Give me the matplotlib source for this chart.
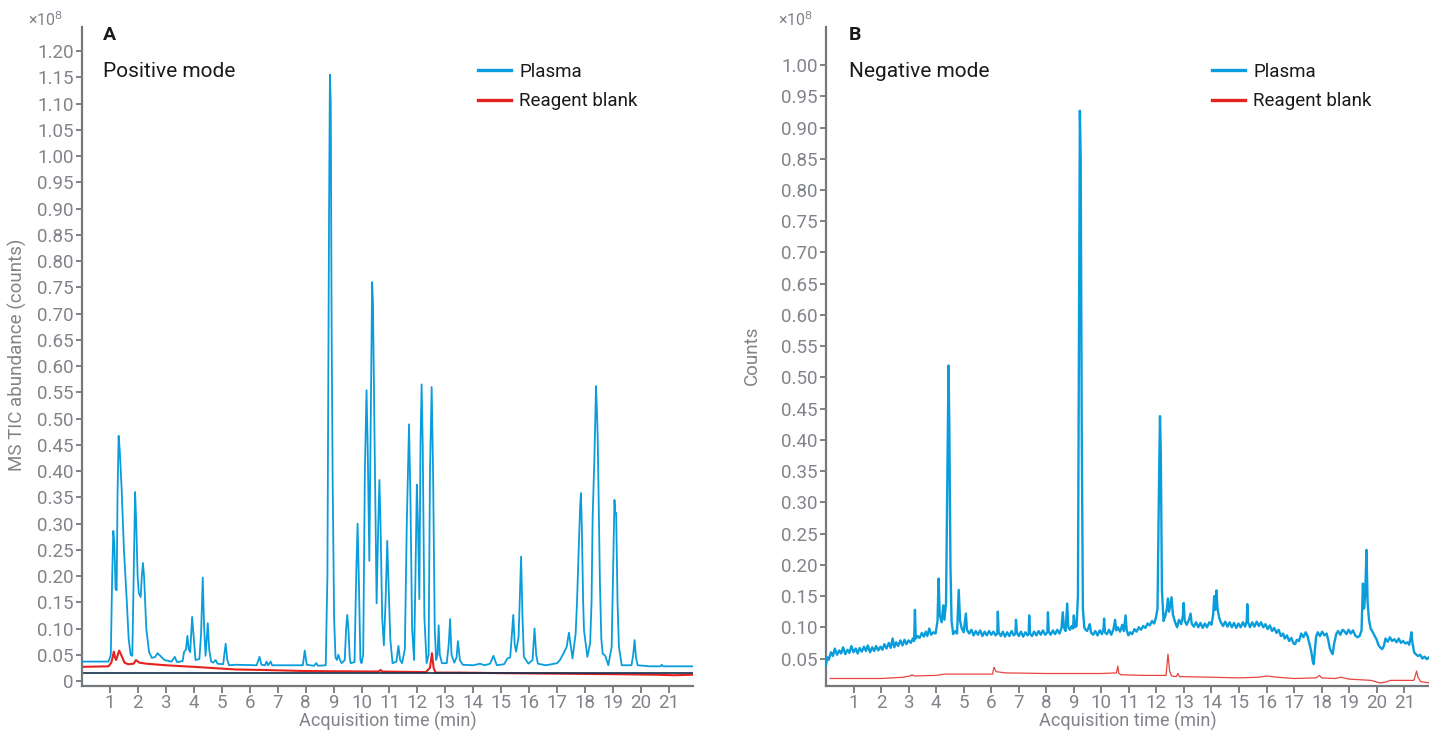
import matplotlib
matplotlib.use("Agg")
import matplotlib.pyplot as plt
from matplotlib.lines import Line2D

plt.rcParams['font.family'] = ['Roboto', 'DejaVu Sans']

# ---------------- data (values in units of 1e8 counts) ----------------
pos_plasma_pts = [
    (0.00, 0.037), (0.95, 0.037), (1.03, 0.050), (1.08, 0.200), (1.12, 0.286), (1.16, 0.260),
    (1.20, 0.175), (1.24, 0.173), (1.27, 0.350), (1.31, 0.467), (1.35, 0.440), (1.42, 0.364),
    (1.50, 0.250), (1.60, 0.154), (1.67, 0.080), (1.74, 0.050), (1.80, 0.048), (1.85, 0.200),
    (1.90, 0.360), (1.94, 0.300), (1.99, 0.200), (2.03, 0.168), (2.10, 0.160), (2.14, 0.200),
    (2.18, 0.225), (2.22, 0.200), (2.30, 0.100), (2.40, 0.055), (2.50, 0.044), (2.62, 0.046),
    (2.70, 0.053), (2.80, 0.048), (2.95, 0.040), (3.20, 0.037), (3.32, 0.046), (3.40, 0.036),
    (3.60, 0.038), (3.65, 0.055), (3.72, 0.060), (3.77, 0.086), (3.82, 0.060), (3.87, 0.055),
    (3.94, 0.122), (4.00, 0.080), (4.06, 0.040), (4.20, 0.042), (4.26, 0.090), (4.32, 0.197),
    (4.37, 0.100), (4.42, 0.048), (4.50, 0.110), (4.55, 0.060), (4.62, 0.037), (4.70, 0.035),
    (4.78, 0.040), (4.85, 0.033), (5.05, 0.032), (5.14, 0.071), (5.20, 0.040), (5.26, 0.030),
    (5.50, 0.031), (6.25, 0.030), (6.35, 0.046), (6.42, 0.031), (6.55, 0.030), (6.60, 0.037),
    (6.66, 0.030), (6.75, 0.037), (6.80, 0.030), (7.90, 0.030), (7.97, 0.058), (8.04, 0.031),
    (8.30, 0.029), (8.38, 0.034), (8.45, 0.029), (8.72, 0.030), (8.78, 0.200), (8.84, 0.900),
    (8.87, 1.155), (8.90, 1.100), (8.93, 0.680), (8.97, 0.370), (9.02, 0.120), (9.07, 0.045),
    (9.12, 0.040), (9.17, 0.050), (9.23, 0.040), (9.29, 0.034), (9.40, 0.040), (9.45, 0.100),
    (9.49, 0.126), (9.53, 0.100), (9.58, 0.045), (9.61, 0.034), (9.75, 0.036), (9.81, 0.200),
    (9.86, 0.300), (9.91, 0.180), (9.96, 0.040), (10.00, 0.034), (10.06, 0.050), (10.12, 0.400),
    (10.18, 0.554), (10.22, 0.450), (10.28, 0.229), (10.32, 0.450), (10.38, 0.760), (10.41, 0.720),
    (10.46, 0.490), (10.54, 0.148), (10.60, 0.300), (10.64, 0.383), (10.68, 0.300), (10.74, 0.120),
    (10.80, 0.068), (10.86, 0.150), (10.92, 0.267), (10.96, 0.200), (11.03, 0.080), (11.11, 0.034),
    (11.25, 0.037), (11.32, 0.067), (11.38, 0.040), (11.45, 0.034), (11.55, 0.060), (11.62, 0.300),
    (11.70, 0.489), (11.75, 0.350), (11.81, 0.100), (11.88, 0.040), (11.93, 0.200), (11.98, 0.374),
    (12.02, 0.300), (12.07, 0.156), (12.11, 0.450), (12.15, 0.565), (12.19, 0.450), (12.25, 0.120),
    (12.33, 0.034), (12.40, 0.050), (12.45, 0.400), (12.51, 0.560), (12.56, 0.400), (12.62, 0.100),
    (12.67, 0.040), (12.72, 0.050), (12.76, 0.106), (12.80, 0.050), (12.88, 0.034), (13.05, 0.034),
    (13.12, 0.070), (13.17, 0.118), (13.22, 0.050), (13.32, 0.035), (13.40, 0.045), (13.45, 0.076),
    (13.52, 0.040), (13.62, 0.031), (14.00, 0.030), (14.24, 0.033), (14.40, 0.030), (14.60, 0.033),
    (14.72, 0.048), (14.84, 0.030), (15.10, 0.032), (15.22, 0.043), (15.32, 0.045), (15.43, 0.126),
    (15.48, 0.070), (15.53, 0.056), (15.62, 0.084), (15.71, 0.237), (15.76, 0.120), (15.81, 0.046),
    (15.97, 0.033), (16.12, 0.040), (16.19, 0.100), (16.25, 0.050), (16.31, 0.033), (16.60, 0.030),
    (17.00, 0.034), (17.10, 0.040), (17.25, 0.055), (17.34, 0.065), (17.42, 0.092), (17.48, 0.070),
    (17.55, 0.043), (17.66, 0.090), (17.71, 0.150), (17.76, 0.230), (17.82, 0.330), (17.85, 0.358),
    (17.88, 0.300), (17.93, 0.150), (17.96, 0.097), (18.08, 0.046), (18.18, 0.072), (18.23, 0.150),
    (18.27, 0.313), (18.33, 0.420), (18.39, 0.562), (18.42, 0.520), (18.45, 0.465), (18.49, 0.330),
    (18.53, 0.186), (18.58, 0.080), (18.63, 0.052), (18.72, 0.048), (18.83, 0.030), (18.95, 0.065),
    (19.00, 0.200), (19.05, 0.345), (19.08, 0.320), (19.11, 0.320), (19.16, 0.150), (19.21, 0.065),
    (19.31, 0.030), (19.66, 0.030), (19.72, 0.050), (19.77, 0.078), (19.82, 0.045), (19.88, 0.030),
    (20.32, 0.028), (20.70, 0.028), (20.74, 0.031), (20.80, 0.028), (21.86, 0.028),
]

pos_blank_pts = [
    (0.00, 0.027), (0.95, 0.028), (1.05, 0.035), (1.14, 0.056), (1.18, 0.045), (1.22, 0.040),
    (1.33, 0.058), (1.40, 0.050), (1.52, 0.035), (1.65, 0.032), (1.85, 0.033), (1.93, 0.040),
    (2.05, 0.035), (2.30, 0.033), (3.00, 0.030), (4.00, 0.027), (4.60, 0.025), (5.50, 0.022),
    (6.50, 0.021), (8.00, 0.019), (10.60, 0.018), (10.68, 0.021), (10.75, 0.018), (12.30, 0.017),
    (12.45, 0.025), (12.52, 0.053), (12.58, 0.025), (12.65, 0.016), (13.50, 0.016), (15.00, 0.015),
    (17.00, 0.014), (19.00, 0.013), (20.50, 0.012), (21.20, 0.011), (21.86, 0.012),
]

pos_reference_level = 0.016

neg_plasma_pts = [
    (0.00, 0.040), (0.05, 0.052), (0.10, 0.048), (0.18, 0.060), (0.25, 0.054), (0.32, 0.066),
    (0.40, 0.056), (0.48, 0.063), (0.55, 0.058), (0.62, 0.068), (0.70, 0.057), (0.78, 0.064),
    (0.85, 0.059), (0.92, 0.070), (1.00, 0.060), (1.08, 0.066), (1.15, 0.058), (1.22, 0.067),
    (1.30, 0.061), (1.38, 0.069), (1.45, 0.062), (1.52, 0.071), (1.60, 0.060), (1.68, 0.068),
    (1.75, 0.062), (1.82, 0.070), (1.90, 0.063), (1.98, 0.069), (2.05, 0.064), (2.12, 0.073),
    (2.20, 0.066), (2.28, 0.075), (2.35, 0.067), (2.42, 0.082), (2.48, 0.068), (2.55, 0.076),
    (2.62, 0.070), (2.70, 0.079), (2.78, 0.071), (2.85, 0.080), (2.92, 0.073), (3.00, 0.079),
    (3.08, 0.075), (3.15, 0.082), (3.20, 0.078), (3.23, 0.128), (3.26, 0.082), (3.32, 0.086),
    (3.40, 0.083), (3.48, 0.091), (3.55, 0.085), (3.62, 0.093), (3.68, 0.086), (3.75, 0.098),
    (3.82, 0.088), (3.90, 0.092), (3.98, 0.090), (4.05, 0.110), (4.09, 0.178), (4.13, 0.120),
    (4.20, 0.108), (4.26, 0.135), (4.30, 0.112), (4.36, 0.140), (4.42, 0.400), (4.45, 0.519),
    (4.48, 0.420), (4.52, 0.200), (4.56, 0.110), (4.62, 0.089), (4.70, 0.094), (4.76, 0.090),
    (4.82, 0.160), (4.87, 0.110), (4.93, 0.098), (5.00, 0.092), (5.08, 0.122), (5.12, 0.096),
    (5.20, 0.090), (5.28, 0.096), (5.36, 0.087), (5.44, 0.094), (5.52, 0.088), (5.60, 0.095),
    (5.68, 0.086), (5.76, 0.093), (5.84, 0.087), (5.92, 0.094), (6.00, 0.088), (6.08, 0.093),
    (6.16, 0.087), (6.22, 0.090), (6.24, 0.125), (6.27, 0.092), (6.35, 0.086), (6.42, 0.093),
    (6.50, 0.085), (6.58, 0.092), (6.66, 0.086), (6.74, 0.094), (6.82, 0.087), (6.88, 0.090),
    (6.90, 0.112), (6.93, 0.092), (7.00, 0.086), (7.08, 0.093), (7.16, 0.085), (7.24, 0.092),
    (7.32, 0.087), (7.36, 0.090), (7.38, 0.119), (7.41, 0.090), (7.48, 0.086), (7.56, 0.093),
    (7.64, 0.087), (7.72, 0.094), (7.80, 0.088), (7.88, 0.095), (7.96, 0.088), (8.04, 0.092),
    (8.06, 0.124), (8.09, 0.093), (8.16, 0.088), (8.24, 0.095), (8.32, 0.089), (8.40, 0.096),
    (8.48, 0.090), (8.55, 0.098), (8.60, 0.124), (8.64, 0.100), (8.70, 0.094), (8.76, 0.138),
    (8.80, 0.100), (8.86, 0.096), (8.92, 0.102), (8.97, 0.098), (9.00, 0.119), (9.04, 0.100),
    (9.10, 0.102), (9.15, 0.150), (9.19, 0.600), (9.22, 0.927), (9.25, 0.850), (9.29, 0.400),
    (9.33, 0.130), (9.38, 0.100), (9.41, 0.097), (9.48, 0.094), (9.54, 0.100), (9.58, 0.105),
    (9.62, 0.092), (9.70, 0.088), (9.78, 0.094), (9.86, 0.087), (9.94, 0.095), (10.02, 0.089),
    (10.08, 0.098), (10.10, 0.114), (10.13, 0.092), (10.20, 0.089), (10.28, 0.096), (10.36, 0.088),
    (10.44, 0.097), (10.50, 0.112), (10.54, 0.095), (10.60, 0.100), (10.68, 0.093), (10.76, 0.104),
    (10.82, 0.094), (10.88, 0.119), (10.92, 0.096), (10.98, 0.087), (11.05, 0.092), (11.12, 0.089),
    (11.20, 0.097), (11.28, 0.093), (11.36, 0.100), (11.44, 0.096), (11.52, 0.102), (11.60, 0.099),
    (11.68, 0.106), (11.76, 0.103), (11.84, 0.110), (11.92, 0.106), (11.98, 0.115), (12.04, 0.130),
    (12.10, 0.350), (12.13, 0.438), (12.16, 0.380), (12.20, 0.160), (12.26, 0.110), (12.32, 0.118),
    (12.38, 0.130), (12.42, 0.146), (12.46, 0.125), (12.52, 0.140), (12.55, 0.148), (12.60, 0.120),
    (12.68, 0.108), (12.75, 0.100), (12.82, 0.112), (12.90, 0.105), (12.96, 0.118), (12.99, 0.139),
    (13.03, 0.110), (13.10, 0.104), (13.18, 0.112), (13.24, 0.122), (13.28, 0.106), (13.36, 0.101),
    (13.44, 0.108), (13.52, 0.100), (13.60, 0.107), (13.68, 0.099), (13.76, 0.106), (13.84, 0.100),
    (13.92, 0.108), (14.00, 0.104), (14.06, 0.120), (14.10, 0.150), (14.14, 0.128), (14.18, 0.159),
    (14.22, 0.130), (14.28, 0.115), (14.34, 0.108), (14.42, 0.102), (14.50, 0.109), (14.58, 0.101),
    (14.66, 0.108), (14.74, 0.100), (14.82, 0.107), (14.90, 0.099), (14.98, 0.106), (15.06, 0.100),
    (15.14, 0.108), (15.22, 0.101), (15.28, 0.110), (15.30, 0.137), (15.33, 0.108), (15.40, 0.100),
    (15.48, 0.108), (15.56, 0.101), (15.64, 0.109), (15.72, 0.102), (15.80, 0.108), (15.88, 0.100),
    (15.96, 0.105), (16.04, 0.097), (16.12, 0.103), (16.20, 0.094), (16.28, 0.099), (16.36, 0.091),
    (16.44, 0.096), (16.52, 0.086), (16.60, 0.090), (16.66, 0.082), (16.74, 0.087), (16.82, 0.078),
    (16.90, 0.083), (16.98, 0.074), (17.04, 0.073), (17.10, 0.080), (17.18, 0.078), (17.26, 0.090),
    (17.34, 0.084), (17.42, 0.092), (17.48, 0.087), (17.55, 0.075), (17.62, 0.062), (17.68, 0.045),
    (17.71, 0.041), (17.75, 0.060), (17.80, 0.085), (17.86, 0.092), (17.94, 0.086), (18.02, 0.093),
    (18.10, 0.087), (18.18, 0.090), (18.24, 0.080), (18.30, 0.066), (18.36, 0.060), (18.40, 0.057),
    (18.46, 0.075), (18.53, 0.089), (18.60, 0.094), (18.68, 0.088), (18.76, 0.096), (18.82, 0.094),
    (18.90, 0.089), (18.98, 0.096), (19.06, 0.090), (19.14, 0.095), (19.22, 0.087), (19.30, 0.084),
    (19.38, 0.086), (19.45, 0.095), (19.50, 0.170), (19.54, 0.130), (19.58, 0.150), (19.63, 0.224),
    (19.67, 0.140), (19.72, 0.112), (19.78, 0.098), (19.86, 0.092), (19.94, 0.085), (20.00, 0.080),
    (20.06, 0.072), (20.12, 0.068), (20.20, 0.065), (20.26, 0.070), (20.32, 0.082), (20.40, 0.077),
    (20.48, 0.084), (20.56, 0.078), (20.64, 0.081), (20.72, 0.076), (20.80, 0.082), (20.88, 0.075),
    (20.96, 0.078), (21.04, 0.074), (21.12, 0.076), (21.18, 0.072), (21.22, 0.080), (21.26, 0.092),
    (21.30, 0.075), (21.36, 0.060), (21.42, 0.057), (21.50, 0.054), (21.58, 0.056), (21.66, 0.050),
    (21.74, 0.053), (21.82, 0.049), (21.90, 0.052),
]

neg_blank_pts = [
    (0.15, 0.018), (1.00, 0.018), (2.00, 0.018), (2.80, 0.020), (3.05, 0.022), (3.12, 0.024),
    (3.20, 0.022), (4.00, 0.023), (4.30, 0.025), (5.00, 0.025), (6.05, 0.025), (6.10, 0.036),
    (6.18, 0.029), (6.50, 0.027), (8.00, 0.026), (10.00, 0.026), (10.55, 0.027), (10.60, 0.038),
    (10.63, 0.027), (10.70, 0.024), (11.50, 0.023), (12.35, 0.023), (12.42, 0.057), (12.48, 0.030),
    (12.55, 0.022), (12.72, 0.021), (12.78, 0.026), (12.84, 0.021), (14.00, 0.020), (15.00, 0.019),
    (15.70, 0.020), (16.00, 0.022), (16.40, 0.020), (17.00, 0.018), (17.80, 0.019), (17.92, 0.023),
    (18.00, 0.019), (18.50, 0.018), (18.70, 0.020), (19.00, 0.017), (19.80, 0.015), (20.10, 0.011),
    (20.30, 0.012), (20.50, 0.015), (21.35, 0.015), (21.45, 0.030), (21.50, 0.020), (21.60, 0.013),
    (21.90, 0.011),
]

x_ticks = list(range(1, 22))
pos_y_ticks = [0, 0.05, 0.10, 0.15, 0.20, 0.25, 0.30, 0.35, 0.40, 0.45, 0.50, 0.55, 0.60,
               0.65, 0.70, 0.75, 0.80, 0.85, 0.90, 0.95, 1.00, 1.05, 1.10, 1.15, 1.20]
neg_y_ticks = [0.05, 0.10, 0.15, 0.20, 0.25, 0.30, 0.35, 0.40, 0.45, 0.50, 0.55, 0.60,
               0.65, 0.70, 0.75, 0.80, 0.85, 0.90, 0.95, 1.00]
series_labels = ["Plasma", "Reagent blank"]

# ---------------- styling ----------------
BLUE = "#0a9ddc"
RED = "#e4231f"
NAVY = "#12304f"
AXIS = "#75787d"
TXT = "#80848a"
DARK = "#1a1a1a"

W, H = 1429, 733
fig = plt.figure(figsize=(W / 100, H / 100), dpi=100)
fig.patch.set_facecolor("white")

axA = fig.add_axes([82 / W, (H - 686) / H, 611 / W, 659 / H])
axB = fig.add_axes([826 / W, (H - 686) / H, 603 / W, 659 / H])


def unzip(pts):
    return [p[0] for p in pts], [p[1] for p in pts]


def style(ax, yticks, ylim, xlim):
    for s in ["top", "right"]:
        ax.spines[s].set_visible(False)
    for s in ["left", "bottom"]:
        ax.spines[s].set_color(AXIS)
        ax.spines[s].set_linewidth(1.6)
    ax.set_xlim(*xlim)
    ax.set_ylim(*ylim)
    ax.set_xticks(x_ticks)
    ax.set_xticklabels([str(t) for t in x_ticks])
    ax.set_yticks(yticks)
    ax.set_yticklabels(["0" if v == 0 else f"{v:.2f}" for v in yticks])
    ax.tick_params(axis="both", colors=AXIS, labelcolor=TXT, labelsize=13.5,
                   width=1.3, length=4, direction="out")
    ax.tick_params(axis="y", pad=2)
    ax.tick_params(axis="x", pad=1, length=5)
    ax.set_xlabel("Acquisition time (min)", fontsize=13, color=TXT)
    ax.xaxis.set_label_coords(0.5, -0.039)


# ---- panel A ----
t, v = unzip(pos_plasma_pts)
axA.plot(t, v, color=BLUE, lw=1.3, zorder=3)
t, v = unzip(pos_blank_pts)
axA.plot(t, v, color=RED, lw=1.5, zorder=2)
axA.axhline(pos_reference_level, color=NAVY, lw=1.2, zorder=2.5)
style(axA, pos_y_ticks, (-0.0095, 1.246), (0, 21.86))
axA.set_ylabel("MS TIC abundance (counts)", fontsize=13.5, color=TXT)
axA.yaxis.set_label_coords(-0.090, 0.502)
axA.text(0.034, 0.988, "A", transform=axA.transAxes, fontsize=14, fontweight="bold",
         color=DARK, ha="left", va="center")
axA.text(0.034, 0.932, "Positive mode", transform=axA.transAxes, fontsize=15,
         color=DARK, ha="left", va="center")
axA.text(-0.059, 1.011, "×10$^{8}$", transform=axA.transAxes, fontsize=11.5,
         color=TXT, ha="center", va="center")

# ---- panel B ----
t, v = unzip(neg_plasma_pts)
axB.plot(t, v, color=BLUE, lw=1.7, zorder=3)
t, v = unzip(neg_blank_pts)
axB.plot(t, v, color=RED, lw=0.9, zorder=2, alpha=0.85)
style(axB, neg_y_ticks, (0.006, 1.061), (0, 21.9))
axB.set_ylabel("Counts", fontsize=13.5, color=TXT)
axB.yaxis.set_label_coords(-0.108, 0.502)
axB.text(0.038, 0.988, "B", transform=axB.transAxes, fontsize=14, fontweight="bold",
         color=DARK, ha="left", va="center")
axB.text(0.038, 0.932, "Negative mode", transform=axB.transAxes, fontsize=15,
         color=DARK, ha="left", va="center")
axB.text(-0.051, 1.011, "×10$^{8}$", transform=axB.transAxes, fontsize=11.5,
         color=TXT, ha="center", va="center")

# legends
for ax, xa in [(axA, 0.648), (axB, 0.640)]:
    handles = [Line2D([0], [0], color=BLUE, lw=2.4), Line2D([0], [0], color=RED, lw=2.4)]
    ax.legend(handles, series_labels, loc="upper left", bbox_to_anchor=(xa, 0.946),
              frameon=False, fontsize=13.5, handlelength=1.75, handletextpad=0.45,
              labelspacing=0.62, borderaxespad=0, borderpad=0, labelcolor=DARK)

fig.savefig("out.png", dpi=100, facecolor="white")
